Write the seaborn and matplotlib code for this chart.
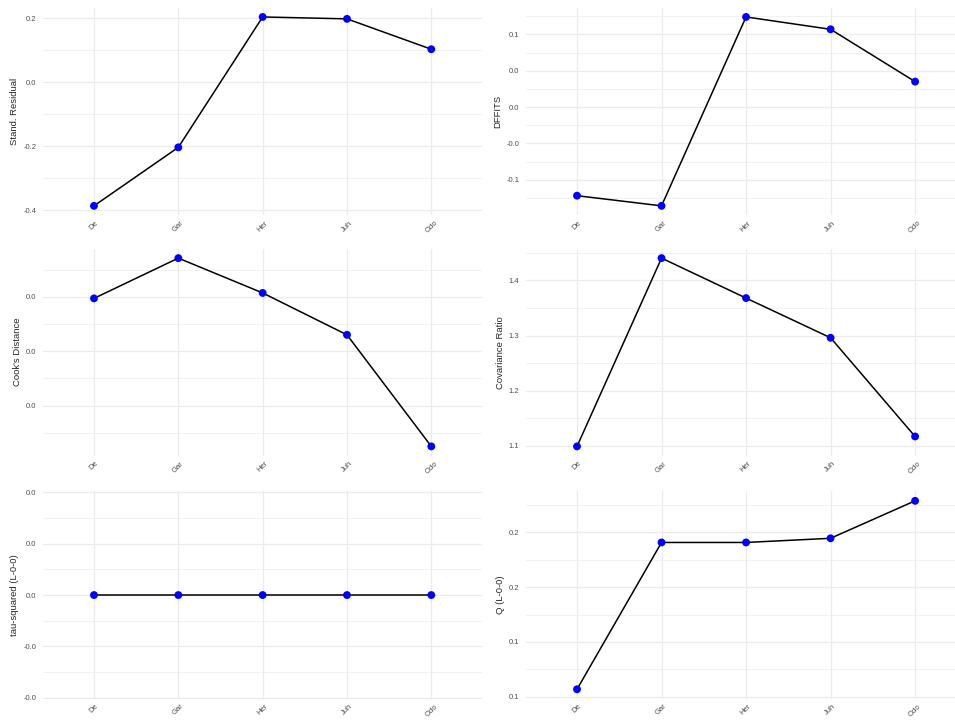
import numpy as np
import pandas as pd
import matplotlib
matplotlib.use('Agg')
import matplotlib.pyplot as plt
import seaborn as sns

# studies on the x axis
studies = ['De', 'Gar', 'Her', 'Juh', 'Odo']

# influence diagnostics
resid = [-0.387, -0.204, 0.204, 0.198, 0.103]
dffits = [-0.122, -0.136, 0.124, 0.107, 0.035]
cooks = [0.0297, 0.0371, 0.0307, 0.0230, 0.0025]
covr = [1.099, 1.4405, 1.368, 1.296, 1.117]
tau2 = [0.0, 0.0, 0.0, 0.0, 0.0]
qdel = [0.1284, 0.1954, 0.1954, 0.1973, 0.2144]

# y ticks and their (1 decimal, rounded) labels
resid_ticks = [-0.4, -0.2, 0.0, 0.2]
resid_labels = ['-0.4', '-0.2', '0.0', '0.2']
dffits_ticks = [-0.10, -0.05, 0.0, 0.05, 0.10]
dffits_labels = ['-0.1', '-0.0', '0.0', '0.0', '0.1']
cooks_ticks = [0.01, 0.02, 0.03]
cooks_labels = ['0.0', '0.0', '0.0']
covr_ticks = [1.1, 1.2, 1.3, 1.4]
covr_labels = ['1.1', '1.2', '1.3', '1.4']
tau2_ticks = [-0.04, -0.02, 0.0, 0.02, 0.04]
tau2_labels = ['-0.0', '-0.0', '0.0', '0.0', '0.0']
q_ticks = [0.125, 0.15, 0.175, 0.2]
q_labels = ['0.1', '0.1', '0.2', '0.2']

sns.set_style('white')
plt.rcParams['font.family'] = ['Liberation Sans', 'DejaVu Sans']

W, H = 955, 720
fig = plt.figure(figsize=(W / 100, H / 100), dpi=100)

cols = [(43.4, 438.5), (526.3, 439.5)]
rows = [(7.5, 207.8), (248.7, 207.1), (491.4, 207.3)]


def rect(c, r):
    left, w = cols[c]
    top, h = rows[r]
    return [left / W, 1 - (top + h) / H, w / W, h / H]


panels = [
    (0, 0, resid, 'Stand. Residual', resid_ticks, resid_labels, None),
    (1, 0, dffits, 'DFFITS', dffits_ticks, dffits_labels, None),
    (0, 1, cooks, "Cook's Distance", cooks_ticks, cooks_labels, None),
    (1, 1, covr, 'Covariance Ratio', covr_ticks, covr_labels, None),
    (0, 2, tau2, 'tau-squared (L-0-0)', tau2_ticks, tau2_labels, (-0.0403, 0.0403)),
    (1, 2, qdel, 'Q (L-0-0)', q_ticks, q_labels, None),
]

for c, r, vals, name, ticks, labels, lim in panels:
    ax = fig.add_axes(rect(c, r))
    df = pd.DataFrame({'study': studies, 'value': vals})
    sns.lineplot(data=df, x='study', y='value', color='black', linewidth=1.1, ax=ax, zorder=3)
    sns.scatterplot(data=df, x='study', y='value', color='blue', s=32, edgecolor='none', ax=ax, zorder=4)

    step = ticks[1] - ticks[0]
    minor = [ticks[0] - step / 2] + [t + step / 2 for t in ticks]
    ax.set_yticks(ticks, labels)
    ax.set_yticks(minor, minor=True)

    # limits after the ticks, otherwise the outer minor ticks widen the view
    if lim is None:
        lo, hi = min(vals), max(vals)
        pad = (hi - lo) * 0.05
        lim = (lo - pad, hi + pad)
    ax.set_ylim(lim)
    ax.set_xlim(-0.6, len(studies) - 0.4)

    ax.grid(True, which='major', color='#EBEBEB', linewidth=0.9)
    ax.grid(True, which='minor', axis='y', color='#EBEBEB', linewidth=0.5)
    ax.set_axisbelow(True)
    for s in ax.spines.values():
        s.set_visible(False)

    ax.tick_params(axis='both', which='both', length=0, labelsize=5.5, labelcolor='#4D4D4D')
    ax.tick_params(axis='y', pad=5)
    ax.tick_params(axis='x', pad=3)
    plt.setp(ax.get_xticklabels(), rotation=45, ha='center')
    ax.set_xlabel('')
    ax.set_ylabel(name, fontsize=6.8, labelpad=3)

fig.savefig('out.png', dpi=100)
